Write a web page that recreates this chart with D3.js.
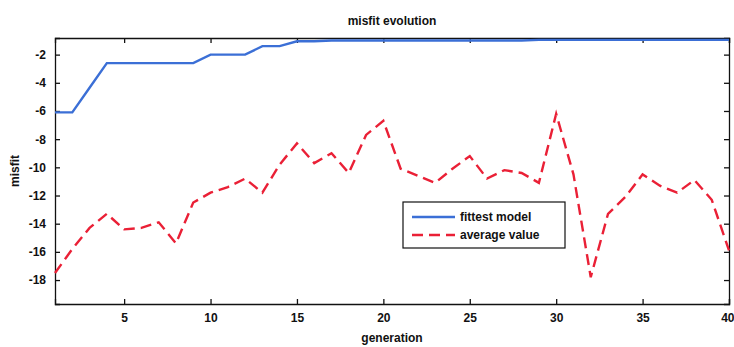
<!DOCTYPE html>
<html>
<head>
<meta charset="utf-8">
<script src="https://cdn.jsdelivr.net/npm/d3@7"></script>
<style>
  html, body { margin: 0; padding: 0; background: #fff; }
  svg { display: block; font-family: "Liberation Sans", Arial, sans-serif; }
</style>
</head>
<body>
<svg id="chart" width="734" height="347"></svg>
<script>
// ---- data ----
const generations = d3.range(1, 41);
const fittestModel = [
  -6.1, -6.1, -4.35, -2.6, -2.6, -2.6, -2.6, -2.6, -2.6, -2.0,
  -2.0, -2.0, -1.4, -1.4, -1.05, -1.05, -1.0, -1.0, -1.0, -1.0,
  -1.0, -1.0, -1.0, -1.0, -1.0, -1.0, -1.0, -1.0, -0.95, -0.95,
  -0.95, -0.95, -0.95, -0.95, -0.95, -0.95, -0.95, -0.95, -0.95, -0.95
];
const averageValue = [
  -17.5, -15.8, -14.3, -13.3, -14.4, -14.3, -13.9, -15.4, -12.5, -11.8,
  -11.4, -10.8, -11.8, -9.8, -8.3, -9.7, -9.0, -10.4, -7.7, -6.7,
  -10.1, -10.6, -11.1, -10.1, -9.2, -10.8, -10.2, -10.4, -11.1, -6.2,
  -10.5, -17.8, -13.3, -12.1, -10.5, -11.3, -11.8, -10.9, -12.3, -15.9
];
const xTicks = [5, 10, 15, 20, 25, 30, 35, 40];
const yTicks = [-2, -4, -6, -8, -10, -12, -14, -16, -18];
const seriesNames = ["fittest model", "average value"];
const seriesColors = ["#3b6fd6", "#ea2036"];

// ---- layout ----
const mLeft = 55, mRight = 729, mTop = 38, mBottom = 304;
const svg = d3.select("#chart");

const x = d3.scaleLinear().domain([1, 40]).range([mLeft, mRight]);
const y = d3.scaleLinear().domain([-19.7, -0.82]).range([mBottom, mTop]);

const tickLen = 5;
const fontSize = 12;

// axes (inward ticks, MATLAB style)
const xAxisB = d3.axisBottom(x).tickValues(xTicks).tickSize(-tickLen).tickPadding(9).tickFormat(d3.format("d"));
const xAxisT = d3.axisTop(x).tickValues(xTicks).tickSize(-tickLen).tickFormat("");
const yAxisL = d3.axisLeft(y).tickValues(yTicks).tickSize(-tickLen).tickPadding(9).tickFormat(d => "-" + Math.abs(d));
const yAxisR = d3.axisRight(y).tickValues(yTicks).tickSize(-tickLen).tickFormat("");

function styleAxis(g) {
  g.selectAll("path.domain").attr("stroke", "#111").attr("stroke-width", 1.3);
  g.selectAll(".tick line").attr("stroke", "#111").attr("stroke-width", 1.3);
  g.selectAll(".tick text").attr("fill", "#111").style("font-size", fontSize + "px").style("font-weight", "bold");
}

const gxb = svg.append("g").attr("transform", `translate(0,${mBottom})`).call(xAxisB).call(styleAxis);
// keep the last label inside the page
gxb.selectAll(".tick text").filter(d => d === 40).attr("text-anchor", "end").attr("dx", 5);
svg.append("g").attr("transform", `translate(0,${mTop})`).call(xAxisT).call(styleAxis);
svg.append("g").attr("transform", `translate(${mLeft},0)`).call(yAxisL).call(styleAxis);
svg.append("g").attr("transform", `translate(${mRight},0)`).call(yAxisR).call(styleAxis);

// lines
const line = d3.line().x((d, i) => x(generations[i])).y(d => y(d));

svg.append("path")
  .datum(averageValue)
  .attr("d", line)
  .attr("fill", "none")
  .attr("stroke", seriesColors[1])
  .attr("stroke-width", 2.4)
  .attr("stroke-dasharray", "11,6");

svg.append("path")
  .datum(fittestModel)
  .attr("d", line)
  .attr("fill", "none")
  .attr("stroke", seriesColors[0])
  .attr("stroke-width", 2.4);

// title and labels
svg.append("text")
  .attr("x", (mLeft + mRight) / 2).attr("y", 25)
  .attr("text-anchor", "middle")
  .style("font-size", "12px").style("font-weight", "bold").attr("fill", "#111")
  .text("misfit evolution");

svg.append("text")
  .attr("x", (mLeft + mRight) / 2).attr("y", 342)
  .attr("text-anchor", "middle")
  .style("font-size", "12px").style("font-weight", "bold").attr("fill", "#111")
  .text("generation");

svg.append("text")
  .attr("transform", `translate(19,${(mTop + mBottom) / 2}) rotate(-90)`)
  .attr("text-anchor", "middle")
  .style("font-size", "12px").style("font-weight", "bold").attr("fill", "#111")
  .text("misfit");

// legend
const lg = svg.append("g").attr("transform", "translate(403,202)");
lg.append("rect").attr("width", 162).attr("height", 46)
  .attr("fill", "#fff").attr("stroke", "#111").attr("stroke-width", 1.2);
seriesNames.forEach((name, i) => {
  const yy = 15 + i * 18;
  lg.append("line").attr("x1", 9).attr("x2", 52).attr("y1", yy).attr("y2", yy)
    .attr("stroke", seriesColors[i]).attr("stroke-width", 2.4)
    .attr("stroke-dasharray", i === 1 ? "11,6" : null);
  lg.append("text").attr("x", 57).attr("y", yy + 4)
    .style("font-size", "12px").style("font-weight", "bold").attr("fill", "#111")
    .text(name);
});
</script>
</body>
</html>
